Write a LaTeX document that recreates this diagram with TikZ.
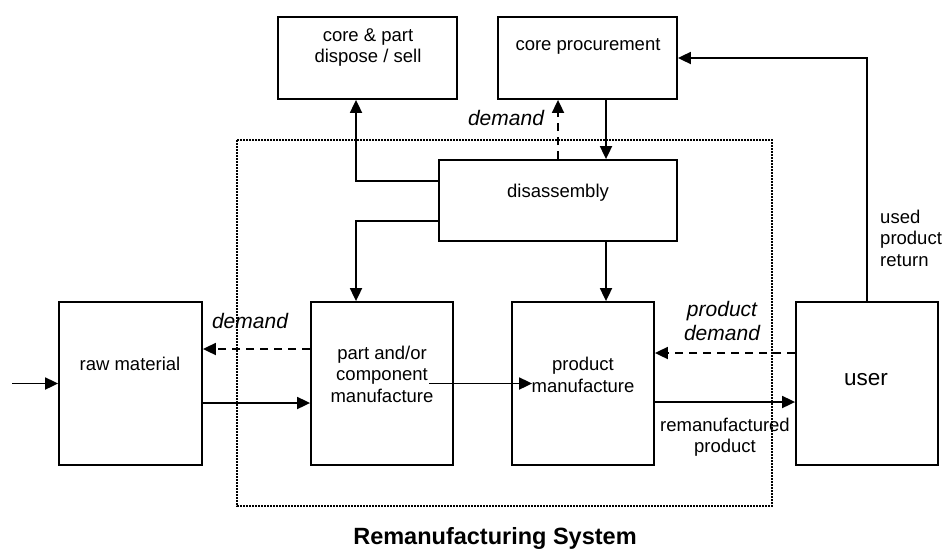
\documentclass[tikz,border=0pt]{standalone}
\usepackage{fontspec}
\setmainfont{Liberation Sans}
\usepackage{tikz}
\usetikzlibrary{arrows.meta,positioning,calc}

\begin{document}
\begin{tikzpicture}[x=1pt, y=-1pt,
  box/.style={draw, line width=1.8pt, inner sep=0pt},
  txt/.style={font=\fontsize{18.5}{21.5}\selectfont, align=center, inner sep=0pt},
  itxt/.style={font=\fontsize{21}{24}\selectfont\itshape, align=center, inner sep=0pt},
  arr/.style={line width=1.8pt, -{Triangle[length=13pt,width=12pt]}},
  darr/.style={arr, dash pattern=on 8pt off 6pt}]
\useasboundingbox (0,0) rectangle (944,552);
% system frame
\draw[line width=1.6pt, dash pattern=on 1.6pt off 1.4pt] (237,140) rectangle (772,506);
% boxes
\node[box, minimum width=179, minimum height=82] (dispose) at (367.5,58) {};
\node[box, minimum width=179, minimum height=82] (procure) at (587.5,58) {};
\node[box, minimum width=238, minimum height=81] (disasm) at (558,200.5) {};
\node[box, minimum width=143, minimum height=163] (raw) at (130.5,383.5) {};
\node[box, minimum width=142, minimum height=163] (part) at (382,383.5) {};
\node[box, minimum width=142, minimum height=163] (prod) at (583,383.5) {};
\node[box, minimum width=142, minimum height=163] (user) at (867,383.5) {};
% box texts
\node[txt] (disposetxt) at (368,47.5) {core \& part\\dispose / sell};
\node[txt] (procuretxt) at (588,46) {core procurement};
\node[txt] (disasmtxt) at (558,193) {disassembly};
\node[txt] (rawtxt) at (130,364) {raw material};
\node[txt] (parttxt) at (382,374) {part and/or\\component\\manufacture};
\node[txt] (prodtxt) at (583,375) {product\\manufacture};
\node[txt, font=\fontsize{22.5}{26}\selectfont] (usertxt) at (866,380) {user};
% flows
\coordinate (in) at (12,383.5);
\draw[arr] (in) -- (raw.west);
\draw[arr] ([yshift=-19.5pt]raw.east) -- ([yshift=-19.5pt]part.west);
\draw[darr] ([yshift=34.5pt]part.west) -- ([yshift=34.5pt]raw.east);
\draw[arr] ([xshift=-25pt]part.east) -- ([xshift=21pt]prod.west);
\draw[darr] ([yshift=30.5pt]user.west) -- ([yshift=30.5pt]prod.east);
\draw[arr] ([yshift=-18.5pt]prod.east) -- ([yshift=-18.5pt]user.west);
\draw[arr] (user.north) |- (procure.east);
\draw[arr] ([xshift=18.5pt]procure.south) -- ([xshift=48pt]disasm.north);
\draw[darr] (disasm.north) -- (disasm.north |- procure.south);
\draw[arr] ([yshift=19.5pt]disasm.west) -| ([xshift=-11.5pt]dispose.south);
\draw[arr] ([yshift=-20.5pt]disasm.west) -| ([xshift=-26pt]part.north);
\draw[arr] ([xshift=48pt]disasm.south) -- ([xshift=23pt]prod.north);
% flow labels
\node[itxt] (dem1) at (506,118) {demand};
\node[itxt] (dem2) at (250,321) {demand};
\node[itxt] (pdem) at (722,321) {product\\demand};
\node[txt] (reman) at (725,437) {remanufactured\\product};
\node[txt, align=left, anchor=west] (ret) at (880,238) {used\\product\\return};
\node[font=\fontsize{23.5}{27}\selectfont\bfseries, inner sep=0pt] (title) at (495,538) {Remanufacturing System};
\end{tikzpicture}
\end{document}
